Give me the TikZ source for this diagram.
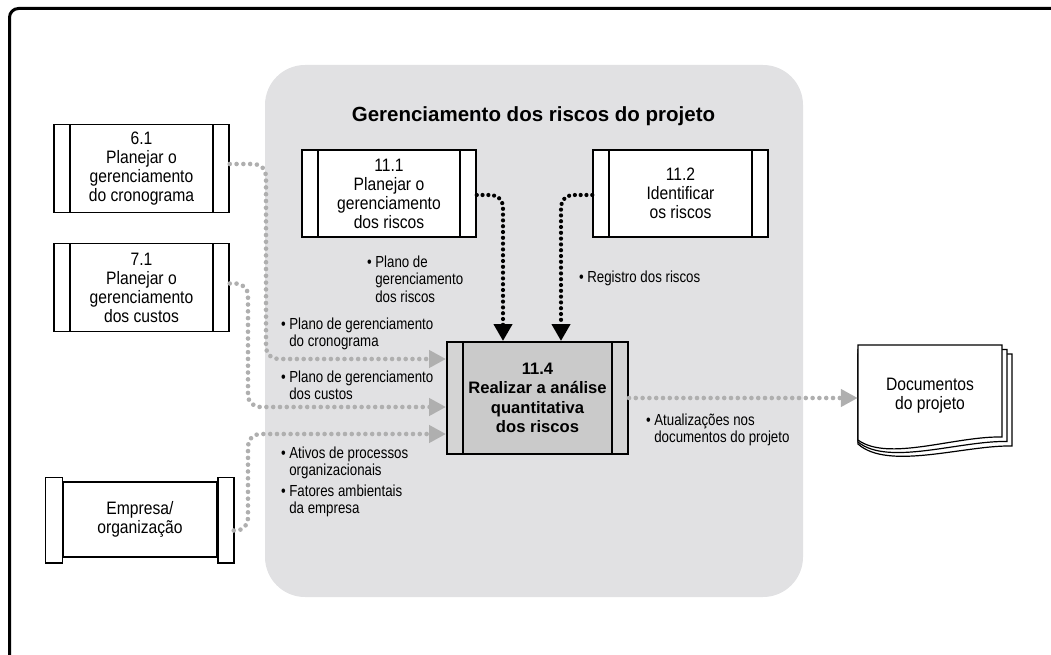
\documentclass[tikz,border=0pt]{standalone}
\usepackage{fontspec}
\setmainfont{Liberation Sans}
\newfontfamily\boxfont{Liberation Sans}[FakeStretch=0.87]
\newfontfamily\labelfont{Liberation Sans}[FakeStretch=0.83]
\usepackage{xcolor}
\usepackage{tikz}
\usetikzlibrary{arrows.meta}

\definecolor{panelgray}{RGB}{225,225,227}
\definecolor{flowgray}{RGB}{175,175,175}
\definecolor{boxgray}{RGB}{202,202,202}
\definecolor{bargray}{RGB}{212,212,212}

\newcommand{\bitems}[1]{\begin{tabular}{@{}l@{\hspace{3.5pt}}l@{}}#1\end{tabular}}

\begin{document}
\begin{tikzpicture}[x=1pt, y=-1pt,
    % ── process boxes with side bars ──
    sidebars/.style={path picture={
        \fill[#1] (path picture bounding box.north west) rectangle ([xshift=16pt]path picture bounding box.south west);
        \fill[#1] ([xshift=-16pt]path picture bounding box.north east) rectangle (path picture bounding box.south east);
        \draw[line width=1.3pt] ([xshift=16pt]path picture bounding box.north west) -- ([xshift=16pt]path picture bounding box.south west)
              ([xshift=-16pt]path picture bounding box.north east) -- ([xshift=-16pt]path picture bounding box.south east);}},
    procbox/.style={draw=black, line width=1.5pt, fill=white, minimum width=175pt, minimum height=88pt,
                    inner sep=0pt, align=center, font=\boxfont\fontsize{18}{19}\selectfont, sidebars=white},
    mainbox/.style={draw=black, line width=2pt, fill=boxgray, minimum width=181pt, minimum height=112pt,
                    inner sep=0pt, align=center, font=\fontsize{16.6}{19.5}\selectfont\bfseries, sidebars=bargray},
    orgbox/.style={draw=black, line width=1.5pt, fill=white, minimum width=154pt, minimum height=75pt,
                   inner sep=0pt, align=center, font=\boxfont\fontsize{18}{19}\selectfont},
    orgbar/.style={draw=black, line width=1.5pt, fill=white},
    doctext/.style={minimum width=144pt, minimum height=92pt, inner sep=0pt, align=center,
                    font=\boxfont\fontsize{18}{19}\selectfont},
    docpage/.style={draw=black, line width=1.2pt, fill=white},
    heading/.style={font=\fontsize{20.5}{24}\selectfont\bfseries, inner sep=0pt},
    % ── bullet labels ──
    flowlabel/.style={font=\labelfont\fontsize{16}{17.5}\selectfont, inner sep=0pt, anchor=north west},
    % ── dotted flows ──
    grayflow/.style={draw=flowgray, line width=4.6pt, line cap=round, dash pattern=on 0pt off 6.8pt,
                     rounded corners=12pt, -{Triangle[length=17pt, width=17pt]}},
    blackflow/.style={draw=black, line width=4.2pt, line cap=round, dash pattern=on 0pt off 5.8pt,
                      rounded corners=12pt, -{Triangle[length=17pt, width=18pt]}},
]

\useasboundingbox (0,0) rectangle (1051,655);

% ══════════════════════════════════════
% Frame and process group panel
% ══════════════════════════════════════
\draw[line width=3pt, rounded corners=9pt] (9.5,8.5) rectangle (1080,690);
\fill[panelgray, rounded corners=40pt] (265,65) rectangle (803,597);
\node[heading] (ttl) at (533.5,116.5) {Gerenciamento dos riscos do projeto};

% ══════════════════════════════════════
% Junction points of the flows
% ══════════════════════════════════════
\coordinate (c61) at (266,359);
\coordinate (c71) at (248,407);
\coordinate (corg) at (248,434);
\coordinate (in1) at (503,341);
\coordinate (in2) at (561,341);

% ══════════════════════════════════════
% Boxes
% ══════════════════════════════════════
\node[procbox] (pm61) at (141.5,168.5) {6.1\\Planejar o\\gerenciamento\\do cronograma};
\node[procbox] (pm71) at (141.5,287.5) {7.1\\Planejar o\\gerenciamento\\dos custos};
\node[procbox, minimum width=174pt, minimum height=87pt] (rp111) at (389,193.5) {11.1\\Planejar o\\gerenciamento\\dos riscos};
\node[procbox, minimum height=87pt] (rp112) at (680.5,193.5) {11.2\\Identificar\\os riscos};
\node[mainbox] (rq114) at (537.5,398) {11.4\\Realizar a análise\\quantitativa\\dos riscos};

% Empresa/organização (taller end bars)
\node[orgbox] (org) at (140,519.5) {Empresa/\\organização};
\draw[orgbar] ([xshift=-17pt, yshift=4pt]org.north west) rectangle ([yshift=-5pt]org.south west);
\draw[orgbar] ([yshift=4pt]org.north east) rectangle ([xshift=16pt, yshift=-5pt]org.south east);

% Documentos do projeto (stack of pages)
\foreach \k in {2,1,0} {
    \draw[docpage] (858,{345+4.5*\k}) -- ({1002+5*\k},{345+4.5*\k}) -- ({1002+5*\k},{437+4.5*\k})
        .. controls ({955+5*\k},{436+4.5*\k}) and (888,{462+4.5*\k}) .. (858,{440+2*\k}) -- cycle;
}
\node[doctext] (docs) at (930,396) {Documentos\\do projeto};

% ══════════════════════════════════════
% Flows
% ══════════════════════════════════════
\draw[grayflow] ([yshift=4.5pt]pm61.east) -| (c61) -- (rq114.west |- c61);
\draw[grayflow] ([yshift=4pt]pm71.east) -| (c71) -- (rq114.west |- c71);
\draw[grayflow] ([xshift=16pt, yshift=-11pt]org.east) -| (corg) -- (rq114.west |- corg);
\draw[grayflow] (rq114.east) -- (rq114.east -| docs.west);
\draw[blackflow] ([yshift=-1.5pt]rp111.east) -| (in1);
\draw[blackflow] ([yshift=-1.5pt]rp112.west) -| (in2);

% ══════════════════════════════════════
% Flow labels
% ══════════════════════════════════════
\node[flowlabel] (lab111) at (367,255) {\bitems{\textbullet & Plano de\\ & gerenciamento\\ & dos riscos}};
\node[flowlabel] (lab112) at (579,270) {\bitems{\textbullet & Registro dos riscos}};
\node[flowlabel] (lab61) at (281,317) {\bitems{\textbullet & Plano de gerenciamento\\ & do cronograma}};
\node[flowlabel] (lab71) at (281,370) {\bitems{\textbullet & Plano de gerenciamento\\ & dos custos}};
\node[flowlabel] (labopa) at (281,446) {\bitems{\textbullet & Ativos de processos\\ & organizacionais}};
\node[flowlabel] (labeef) at (281,484) {\bitems{\textbullet & Fatores ambientais\\ & da empresa}};
\node[flowlabel] (labdoc) at (646,413) {\bitems{\textbullet & Atualizações nos\\ & documentos do projeto}};

\end{tikzpicture}
\end{document}
